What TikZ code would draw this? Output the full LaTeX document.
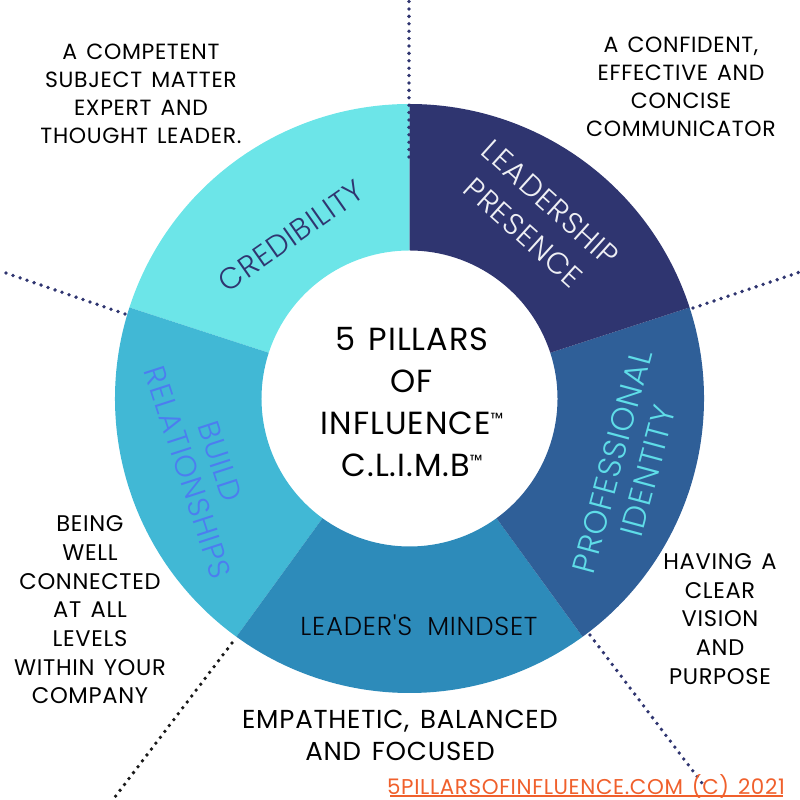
\documentclass[tikz,border=0pt]{standalone}
\usepackage{fontspec}
\setmainfont{Poppins}
\newfontfamily\popn[LetterSpace=3,WordSpace=1.9]{Poppins}
\newfontfamily\popk[LetterSpace=3,WordSpace=1.4]{Poppins}
\newfontfamily\popl[LetterSpace=3,WordSpace=1.9]{Poppins Light}
\definecolor{cCred}{HTML}{6CE5E8}
\definecolor{cBuild}{HTML}{41B8D5}
\definecolor{cMind}{HTML}{2D8BBA}
\definecolor{cProf}{HTML}{2F5F98}
\definecolor{cLead}{HTML}{2F3570}
\definecolor{cUrl}{HTML}{F0602C}
\definecolor{cBlue}{HTML}{4C7DF0}
\definecolor{cLabel}{HTML}{5FDDE8}
\newcommand{\ringseg}[3]{\fill[#1] ($(ctr)+(#2:294.5)$) arc (#2:#3:294.5) -- ($(ctr)+(#3:148)$) arc (#3:#2:148) -- cycle;}
\newcommand{\tmark}{\raisebox{10pt}{\fontsize{16}{16}\selectfont ™}}
\usetikzlibrary{calc}
\tikzset{
  note/.style={align=center,inner sep=0pt,text=black,font=\popn\fontsize{22}{28}\selectfont},
  notetall/.style={align=center,inner sep=0pt,text=black,font=\popk\fontsize{22.6}{28.7}\selectfont},
  wide/.style={align=center,inner sep=0pt,text=black,font=\popn\fontsize{26}{32}\selectfont},
  hub/.style={align=center,inner sep=0pt,text=black,font=\popn\fontsize{32}{42}\selectfont},
  pillar/.style 2 args={align=center,inner sep=0pt,font=\popl\fontsize{#1}{#2}\selectfont},
  dots/.style={line width=3.8pt,line cap=round,dash pattern=on 0pt off 7.4pt,draw=cLead},
}
\begin{document}
\begin{tikzpicture}[x=1pt,y=1pt]
\useasboundingbox (0,0) rectangle (800,800);
\coordinate (ctr) at (409.5,401.5);
\ringseg{cCred}{90}{162}
\ringseg{cBuild}{162}{234}
\ringseg{cMind}{234}{306}
\ringseg{cProf}{306}{378}
\ringseg{cLead}{18}{90}
% dotted leaders
\coordinate (t1) at (409,800); \coordinate (t2) at (409,643);
\coordinate (r1) at (693,492); \coordinate (r2) at (800,528);
\coordinate (l1) at (125,486); \coordinate (l2) at (3,528);
\coordinate (d1) at (232,157); \coordinate (d2) at (115,3);
\coordinate (e1) at (590,165); \coordinate (e2) at (705,13);
\draw[dots] (t2) -- (t1);
\draw[dots] (r1) -- (r2);
\draw[dots] (l1) -- (l2);
\draw[dots,draw=black!90] (d1) -- (d2);
\draw[dots] (e1) -- (e2);
% notes
\node[note] (nCred) at (141,706) {A COMPETENT\\SUBJECT MATTER\\EXPERT AND\\THOUGHT LEADER.};
\node[note] (nLead) at (681,713) {A CONFIDENT,\\EFFECTIVE AND\\CONCISE\\COMMUNICATOR};
\node[notetall] (nBuild) at (90,190) {BEING\\WELL\\CONNECTED\\AT ALL\\LEVELS\\WITHIN YOUR\\COMPANY};
\node[notetall] (nProf) at (720,181) {HAVING A\\CLEAR\\VISION\\AND\\PURPOSE};
\node[wide] (nMind) at (400,65) {EMPATHETIC, BALANCED\\AND FOCUSED};
\node[inner sep=0pt,text=cUrl,font=\popk\fontsize{21.4}{24}\selectfont] (url) at (586,14) {5PILLARSOFINFLUENCE.COM (C) 2021};
\draw[cUrl,line width=1.2pt] (390,4) -- (783,4);
% hub
\node[hub] (hub) at (412,398) {5 PILLARS\\OF\\INFLUENCE\tmark\\C.L.I.M.B\tmark};
% ring labels
\node[pillar={30}{37},text=cLead,rotate=35] (lCred) at (291,564) {CREDIBILITY};
\node[pillar={30}{40},text=white!92!cLead,rotate=-42] (lLead) at (537,582) {LEADERSHIP\\PRESENCE};
\node[pillar={32}{37},text=cLabel,rotate=75] (lProf) at (630,334) {PROFESSIONAL\\IDENTITY};
\node[pillar={26}{37},text=black!90!cLead] (lMind) at (419,175) {LEADER'S MINDSET};
\node[pillar={30}{34},text=cBlue,rotate=-72] (lBuild) at (204,333) {BUILD\\RELATIONSHIPS};
\end{tikzpicture}
\end{document}
